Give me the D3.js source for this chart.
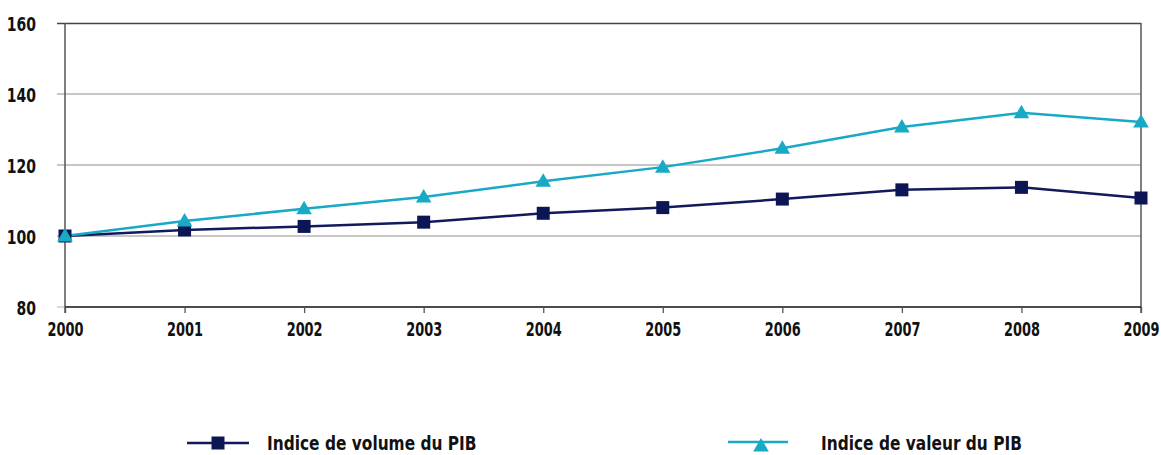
<!DOCTYPE html>
<html><head><meta charset="utf-8">
<script src="https://cdn.jsdelivr.net/npm/d3@7"></script>
<style>
body{margin:0;background:#fff;}
text{font-family:"DejaVu Sans",sans-serif;font-weight:bold;fill:#111;}
</style></head>
<body><svg id="c" width="1161" height="455"></svg>
<script>
const years = [2000,2001,2002,2003,2004,2005,2006,2007,2008,2009];
const volume = [100,101.7,102.7,103.9,106.4,108.0,110.4,113.0,113.7,110.7];
const valeur = [100,104.2,107.7,111.0,115.4,119.4,124.7,130.7,134.7,132.1];
const yTicks = [80,100,120,140,160];
const seriesNames = ["Indice de volume du PIB","Indice de valeur du PIB"];
const colors = ["#121a5c","#17a9c6"];

const svg = d3.select("#c");
const L=65,R=1141,T=23,B=307;
const x = d3.scaleLinear().domain([2000,2009]).range([L,R]);
const y = d3.scaleLinear().domain([80,160]).range([B,T]);

function condense(sel, k){
  sel.each(function(){
    const w = this.getComputedTextLength();
    d3.select(this).attr("textLength", w*k).attr("lengthAdjust","spacingAndGlyphs");
  });
}

svg.append("g").selectAll("line").data(yTicks.filter(d=>d>80&&d<160)).join("line")
  .attr("x1",57).attr("x2",R).attr("y1",d=>y(d)).attr("y2",d=>y(d))
  .attr("stroke","#b4b4b4").attr("stroke-width",1.3);
svg.append("line").attr("x1",57).attr("x2",R).attr("y1",y(160)+0.5).attr("y2",y(160)+0.5)
  .attr("stroke","#444").attr("stroke-width",1.5);
svg.append("line").attr("x1",R).attr("x2",R).attr("y1",y(160)).attr("y2",B+6)
  .attr("stroke","#555").attr("stroke-width",1.5);
svg.append("line").attr("x1",57).attr("x2",L).attr("y1",B).attr("y2",B).attr("stroke","#b4b4b4");

const ya = svg.append("g").attr("transform",`translate(${L},0)`)
  .call(d3.axisLeft(y).tickValues(yTicks).tickSize(0).tickPadding(29));
ya.select(".domain").attr("stroke","#555").attr("stroke-width",1.5).attr("d",`M0,${y(160)}V${B+6}`);
ya.selectAll("text").style("font-size","20px").attr("dy","0.36em").call(condense,0.7);

const xa = svg.append("g").attr("transform",`translate(0,${B})`)
  .call(d3.axisBottom(x).tickValues(years).tickFormat(d3.format("d")).tickSize(6).tickPadding(10));
xa.select(".domain").attr("stroke","#111").attr("stroke-width",1.5).attr("d",`M${L},0H${R}`);
xa.selectAll(".tick line").attr("stroke","#555").attr("stroke-width",1.3);
xa.selectAll("text").style("font-size","19px").call(condense,0.68);

const line = d3.line().x((d,i)=>x(years[i])).y(d=>y(d));
const tri = d3.symbol().type(d3.symbolTriangle).size(105);

svg.append("path").datum(volume).attr("d",line).attr("fill","none")
  .attr("stroke",colors[0]).attr("stroke-width",2.5);
svg.append("path").datum(valeur).attr("d",line).attr("fill","none")
  .attr("stroke",colors[1]).attr("stroke-width",2.5);

svg.append("g").selectAll("rect").data(volume).join("rect")
  .attr("x",(d,i)=>x(years[i])-6.5).attr("y",d=>y(d)-6.5)
  .attr("width",13).attr("height",13).attr("fill","#0d1654");
svg.append("g").selectAll("path").data(valeur).join("path")
  .attr("d",tri).attr("transform",(d,i)=>`translate(${x(years[i])},${y(d)+1})`)
  .attr("fill",colors[1]);

const lg = svg.append("g");
lg.append("line").attr("x1",187).attr("x2",249).attr("y1",443).attr("y2",443)
  .attr("stroke",colors[0]).attr("stroke-width",2.5);
lg.append("rect").attr("x",211.5).attr("y",436.5).attr("width",13).attr("height",13).attr("fill","#0d1654");
lg.append("text").attr("x",267).attr("y",443).attr("dy","0.36em").style("font-size","20px").text(seriesNames[0]).call(condense,0.77);
lg.append("line").attr("x1",728).attr("x2",788).attr("y1",442).attr("y2",442)
  .attr("stroke",colors[1]).attr("stroke-width",2.5);
lg.append("path").attr("d",tri).attr("transform","translate(761,447)").attr("fill",colors[1]);
lg.append("text").attr("x",821).attr("y",443).attr("dy","0.36em").style("font-size","20px").text(seriesNames[1]).call(condense,0.77);
</script></body></html>
